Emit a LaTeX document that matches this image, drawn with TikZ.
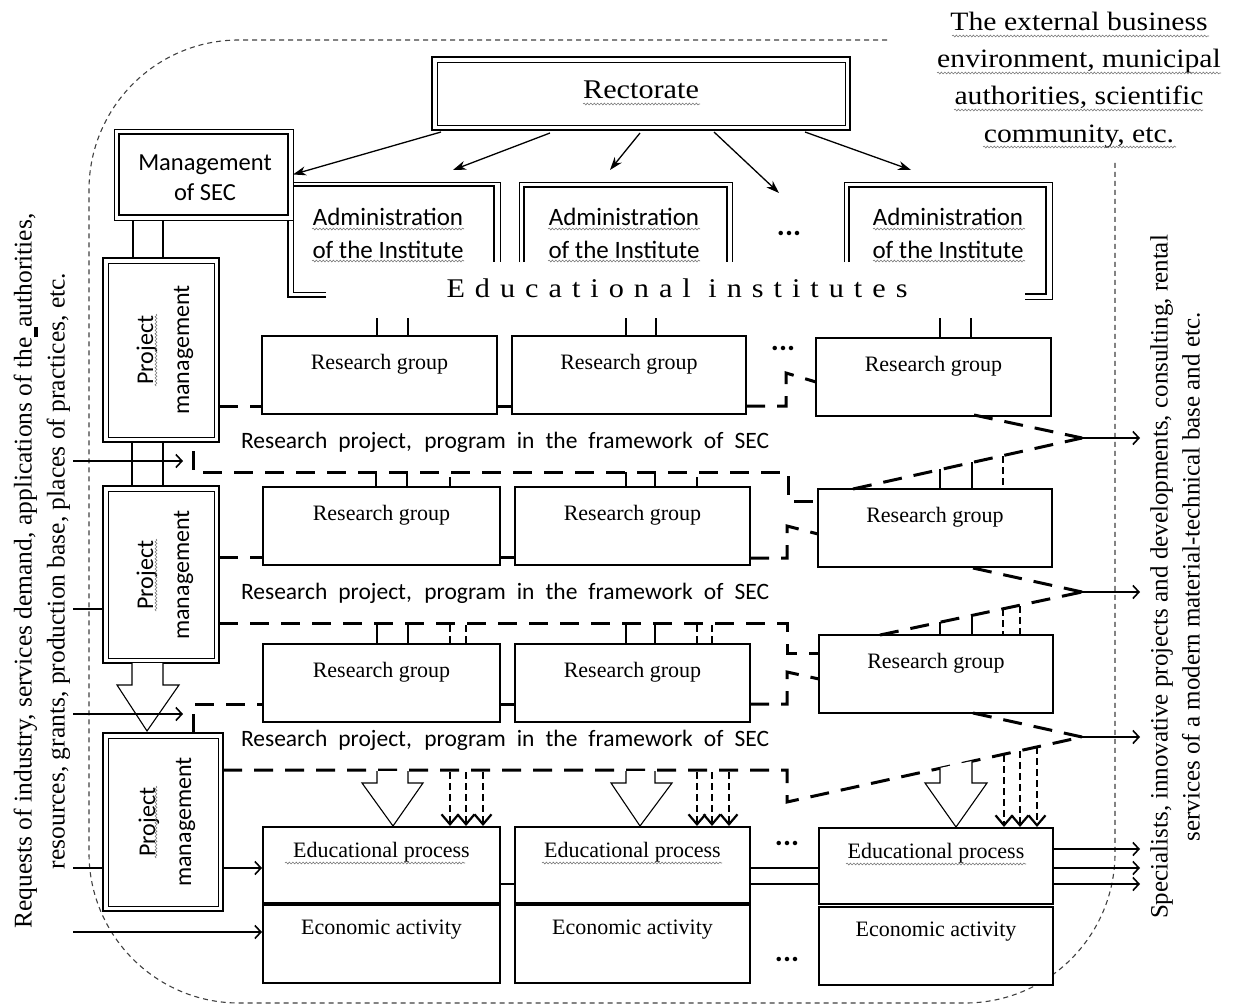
\documentclass[tikz,border=0pt]{standalone}
\usepackage{fontspec}
\setmainfont{Liberation Serif}
\newfontfamily\calib{Carlito}
\newfontfamily\camb[FakeStretch=1.12]{Liberation Serif}
\newfontfamily\cambsp[FakeStretch=1.12,LetterSpace=37]{Liberation Serif}
\usetikzlibrary{arrows.meta,decorations.pathmorphing}
\begin{document}
\begin{tikzpicture}[x=1pt,y=-1pt,
  every node/.style={inner sep=0pt,outer sep=0pt},
  box/.style={draw,line width=1.2pt,fill=white,anchor=north west},
  rg/.style={box,font=\fontsize{22}{24}\selectfont,text height=33pt,text depth=45pt,minimum width=235pt},
  ep/.style={box,font=\fontsize{22}{24}\selectfont,text height=30pt,text depth=46pt,minimum width=235pt},
  ea/.style={box,font=\fontsize{22}{24}\selectfont,text height=29pt,text depth=49pt,minimum width=235pt},
  pmbox/.style={draw,line width=2.2pt,fill=white,anchor=north west},
  innerline/.style={line width=0.9pt},
  pmtext/.style={rotate=90,align=center,font=\calib\fontsize{24}{36}\selectfont},
  admtext/.style={align=center,font=\calib\fontsize{25}{33}\selectfont},
  pdash/.style={line width=3pt,dash pattern=on 19pt off 12pt},
  ddash/.style={line width=2pt,dash pattern=on 7pt off 4pt},
  bdash/.style={line width=1.1pt,dash pattern=on 5pt off 4pt,black!75},
  stub/.style={line width=1.2pt},
  rarr/.style={line width=1.3pt,-{Stealth[length=13pt,width=9pt,inset=4pt]}},
  inarr/.style={line width=1.4pt,-{Straight Barb[length=6pt,width=13pt,line width=1.6pt]}},
  downarr/.style={ddash,-{Straight Barb[length=10pt,width=17pt,line width=2.2pt]}},
  blockarr/.style={line width=1.1pt,fill=white},
  wavy/.style={decorate,decoration={snake,amplitude=0.9pt,segment length=3.4pt},line width=0.55pt,black!55},
  dots/.style={font=\calib\bfseries\fontsize{30}{30}\selectfont},
  projtext/.style={font=\calib\fontsize{23.5}{26}\selectfont}
]
\useasboundingbox (0,0) rectangle (1236,1006);

% outer boundary of the SEC
\draw[bdash,rounded corners=150pt] (887,40) -- (89,40) -- (89,1003) -- (1115,1003) -- (1115,162);

% external environment text
\node[align=center,font=\camb\fontsize{26.5}{37.3}\selectfont] (ext) at (1079,80)
  {The external business\\environment, municipal\\authorities, scientific\\community, etc.};
\foreach \yy/\xa/\xb in {36/952/1209, 73/937/1221, 110/954/1203, 147/983/1176}
  \draw[wavy] (\xa,\yy) -- (\xb,\yy);

% left and right texts
\node[rotate=90,align=center,font=\fontsize{25.5}{33}\selectfont] (lefttxt) at (42,571)
  {Requests of industry, services demand, applications of the\rule[-6pt]{10pt}{3.5pt}authorities,\\resources, grants, production base, places of practices, etc.};
\node[rotate=90,align=center,font=\fontsize{25}{32}\selectfont] (righttxt) at (1175,577)
  {Specialists, innovative projects and developments, consulting, rental\\services of a modern material-technical base and etc.};

% Rectorate
\node[draw,line width=2.4pt,anchor=north west,minimum width=418pt,minimum height=73pt] (rect) at (432,57) {};
\draw[innerline] (437,62) rectangle (845,125);
\node[font=\camb\fontsize{27}{30}\selectfont] (recttxt) at (641,90) {Rectorate};
\draw[wavy] (583,104) -- (700,104);

% Administration boxes (open at the bottom)
\draw[line width=0.9pt] (326,292) -- (293,292) -- (293,182) -- (500,182) -- (500,262);
\draw[line width=2.6pt] (326,297) -- (288,297) -- (288,186) -- (494,186) -- (494,262);
\draw[line width=0.9pt] (519,262) -- (519,182) -- (732,182) -- (732,262);
\draw[line width=2.6pt] (524,262) -- (524,187) -- (727,187) -- (727,262);
\draw[line width=0.9pt] (844,262) -- (844,182) -- (1052,182) -- (1052,299) -- (1025,299);
\draw[line width=2.6pt] (849,262) -- (849,187) -- (1046,187) -- (1046,294) -- (1025,294);
\node[admtext] (adm1) at (388,233.5) {Administration\\of the Institute};
\node[admtext] (adm2) at (624,233.5) {Administration\\of the Institute};
\node[admtext] (adm3) at (948,233.5) {Administration\\of the Institute};
\foreach \xa in {312,548,873} {
  \draw[wavy] (\xa,229) -- ++(152,0);
  \draw[wavy] (\xa,261) -- ++(152,0);
}
\node[dots] (dotsadm) at (789,233) {...};
\node[font=\cambsp\fontsize{27}{30}\selectfont] (eduinst) at (677,288) {Educational institutes};

% Management of SEC
\node[draw,line width=0.9pt,fill=white,anchor=north west,minimum width=179pt,minimum height=91pt] (mgmt) at (114,129) {};
\draw[line width=2.4pt] (119,134) rectangle (288,215);
\node[align=center,font=\calib\fontsize{24.5}{30}\selectfont] (mgmttxt) at (205,178) {Management\\of SEC};

% arrows from the Rectorate
\draw[rarr] (441,132) -- (mgmt.east);
\draw[rarr] (550,133) -- (453,170);
\draw[rarr] (640,133) -- (610,170);
\draw[rarr] (714,132) -- (779,193);
\draw[rarr] (805,132) -- (911,170);

% Project management boxes
\node[pmbox,minimum width=116pt,minimum height=184pt] (pm1) at (103,258) {};
\draw[innerline] (108,263) rectangle (214,437);
\node[pmbox,minimum width=116pt,minimum height=177pt] (pm2) at (103,486) {};
\draw[innerline] (108,491) rectangle (214,658);
\node[pmbox,minimum width=120pt,minimum height=178pt] (pm3) at (103,733) {};
\draw[innerline] (108,738) rectangle (218,906);
\node[pmtext] (pmt1) at (165,350) {Project\\management};
\node[pmtext] (pmt2) at (165,575) {Project\\management};
\node[pmtext] (pmt3) at (167,822) {Project\\management};
\draw[wavy] (156,314) -- (156,386);
\draw[wavy] (156,539) -- (156,611);
\draw[wavy] (156,786) -- (156,858);

% links between management boxes
\draw[stub] (133,220) -- (133,258);
\draw[stub] (163,220) -- (163,258);
\draw[stub] (132,442) -- (132,486);
\draw[stub] (163,442) -- (163,486);
\draw[blockarr] (132,663) -- (132,685) -- (117,685) -- (147,731) -- (179,685) -- (163,685) -- (163,663);

% Research groups
\node[rg] (rg1a) at (262,336) {Research group};
\node[rg,minimum width=234pt] (rg2a) at (512,336) {Research group};
\node[rg] (rg3a) at (816,338) {Research group};
\node[rg,minimum width=237pt] (rg1b) at (263,487) {Research group};
\node[rg] (rg2b) at (515,487) {Research group};
\node[rg,minimum width=234pt] (rg3b) at (818,489) {Research group};
\node[rg,minimum width=237pt] (rg1c) at (263,644) {Research group};
\node[rg] (rg2c) at (515,644) {Research group};
\node[rg,minimum width=234pt] (rg3c) at (819,635) {Research group};
\node[dots] (dotsrg) at (783,348) {...};

% Educational process / Economic activity
\node[ep,minimum width=237pt] (ep1) at (263,827) {Educational process};
\node[ea,minimum width=237pt] (ea1) at (263,905) {Economic activity};
\node[ep] (ep2) at (515,827) {Educational process};
\node[ea] (ea2) at (515,905) {Economic activity};
\node[ep,minimum width=234pt] (ep3) at (819,828) {Educational process};
\node[ea,minimum width=234pt] (ea3) at (819,907) {Economic activity};
\draw[wavy] (285,863) -- (465,863);
\draw[wavy] (542,863) -- (722,863);
\draw[wavy] (846,864) -- (1026,864);
\node[dots] (dotsep) at (787,843) {...};
\node[dots] (dotsea) at (787,959) {...};
\draw[stub] (500,884) -- (515,884);
\draw[stub] (750,868) -- (819,868);
\draw[stub] (750,884) -- (819,884);

% stubs from the institutes to the first row of groups
\foreach \xx in {377,408,626,656,940,971} \draw[stub] (\xx,318) -- (\xx,337);

% research project texts
\node[projtext] (pp1) at (505,442) {\makebox[528pt][s]{Research project, program in the framework of SEC}};
\node[projtext] (pp2) at (505,593) {\makebox[528pt][s]{Research project, program in the framework of SEC}};
\node[projtext] (pp3) at (505,740) {\makebox[528pt][s]{Research project, program in the framework of SEC}};

% row links (groups of one row)
\draw[pdash] (219,406) -- (262,406);
\draw[pdash] (497,406) -- (512,406);
\draw[pdash] (746,406) -- (786,406) -- (786,373) -- (816,382);
\draw[pdash] (219,557) -- (263,557);
\draw[pdash] (500,557) -- (515,557);
\draw[pdash] (750,558) -- (787,558) -- (787,526) -- (818,534);
\draw[pdash] (193,733) -- (193,704) -- (263,704);
\draw[pdash] (500,704) -- (515,704);
\draw[pdash] (750,704) -- (787,704) -- (787,672) -- (819,679);

% research project 1
\draw[pdash] (193,451) -- (193,472) -- (788,472) -- (788,501) -- (818,501);
\draw[pdash] (853,489) -- (1082,438);
\draw[pdash] (974,415) -- (1082,438);
\foreach \xx in {376,407,626,655} \draw[stub] (\xx,472) -- (\xx,487);
\draw[line width=2.6pt] (450,477) -- (450,487);
\draw[line width=2.6pt] (697,477) -- (697,487);
\draw[stub] (940,469) -- (940,489);
\draw[stub] (972,462) -- (972,489);
\draw[ddash] (1003,456) -- (1003,489);

% research project 2
\draw[pdash] (219,623) -- (787,623) -- (787,653) -- (819,653);
\draw[pdash] (880,635) -- (1082,592);
\draw[pdash] (973,568) -- (1082,592);
\foreach \xx in {377,408,626,655} \draw[stub] (\xx,623) -- (\xx,644);
\foreach \xx in {450,466,697,712} \draw[ddash] (\xx,625) -- (\xx,644);
\draw[stub] (940,622) -- (940,635);
\draw[stub] (972,615) -- (972,635);
\draw[ddash] (1003,609) -- (1003,635);
\draw[ddash] (1020,606) -- (1020,635);

% research project 3
\draw[pdash] (223,770) -- (787,770) -- (787,802) -- (1082,737);
\draw[pdash] (973,713) -- (1082,737);

% hollow block arrows into the educational process
\draw[blockarr] (377,771) -- (377,783) -- (362,783) -- (393,826) -- (423,783) -- (408,783) -- (408,771);
\draw[blockarr] (626,771) -- (626,783) -- (611,783) -- (640,826) -- (672,783) -- (655,783) -- (655,771);
\draw[blockarr] (940,768) -- (940,783) -- (925,783) -- (956,827) -- (987,783) -- (972,783) -- (972,761);

% dashed arrows into the educational process
\foreach \xx in {450,466,483,697,712,729} \draw[downarr] (\xx,772) -- (\xx,826);
\draw[downarr] (1004,755) -- (1004,827);
\draw[downarr] (1020,751) -- (1020,827);
\draw[downarr] (1037,747) -- (1037,827);

% outputs
\draw[inarr] (1082,438) -- (1140,438);
\draw[inarr] (1082,592) -- (1140,592);
\draw[inarr] (1082,737) -- (1140,737);
\draw[inarr] (1053,849) -- (1140,849);
\draw[inarr] (1053,868) -- (1140,868);
\draw[inarr] (1053,884) -- (1140,884);

% inputs
\draw[inarr] (73,461) -- (183,461);
\draw[stub,line width=1.4pt] (73,609) -- (103,609);
\draw[inarr] (73,714) -- (183,714);
\draw[stub,line width=1.4pt] (73,868) -- (103,868);
\draw[inarr] (73,932) -- (262,932);
\draw[inarr] (223,868) -- (262,868);
\end{tikzpicture}
\end{document}
